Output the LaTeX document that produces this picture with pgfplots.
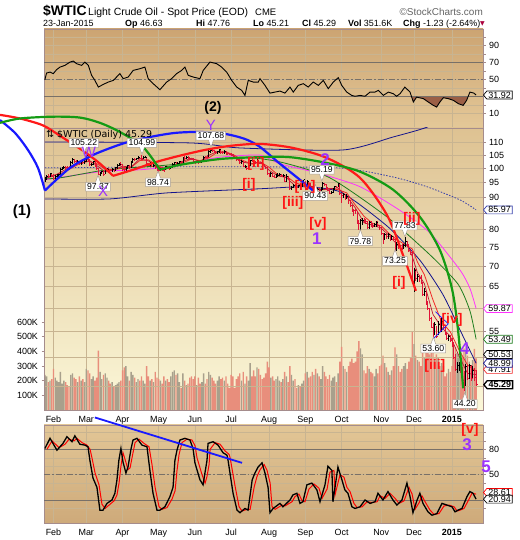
\documentclass[border=0pt]{standalone}
\usepackage{fontspec}
\setmainfont{Liberation Sans}
\newfontfamily\dejavu{DejaVu Sans}
\usepackage{pgfplots}
\usepackage{pgfplotstable}
\pgfplotsset{compat=1.18}
\usetikzlibrary{shapes.symbols,shapes.callouts}

\definecolor{frame}{RGB}{165,140,140}
\definecolor{gridc}{RGB}{200,180,145}
\definecolor{lvl}{RGB}{120,112,104}
\definecolor{barred}{RGB}{225,20,55}
\definecolor{volred}{RGB}{232,142,124}
\definecolor{volgrey}{RGB}{168,160,140}
\definecolor{navy}{RGB}{20,20,140}
\definecolor{dotnavy}{RGB}{50,60,170}
\definecolor{magen}{RGB}{255,50,255}
\definecolor{dgreen}{RGB}{30,125,30}
\definecolor{crim}{RGB}{185,20,50}
\definecolor{mared}{RGB}{240,40,40}
\definecolor{arcred}{RGB}{255,25,25}
\definecolor{arcgreen}{RGB}{20,155,20}
\definecolor{arcblue}{RGB}{25,25,255}
\definecolor{wpurple}{RGB}{155,50,255}
\definecolor{wred}{RGB}{255,20,20}
\definecolor{rsifill}{RGB}{155,95,70}
\definecolor{topA}{RGB}{204,164,114}
\definecolor{topB}{RGB}{228,200,152}
\definecolor{mainA}{RGB}{222,194,146}
\definecolor{mainM}{RGB}{240,224,180}
\definecolor{mainB}{RGB}{251,247,216}
\definecolor{botA}{RGB}{226,198,150}
\definecolor{botB}{RGB}{206,170,122}
\definecolor{labgrey}{RGB}{170,160,150}

\pgfdeclareplotmark{rtick}{\pgfpathmoveto{\pgfpointorigin}\pgfpathlineto{\pgfpoint{1.6bp}{0pt}}\pgfusepathqstroke}

\newcount\myrow
\pgfplotstableread{
i lo hi c v
0 95.2 96.9 95.9 240
1 95.8 97.8 97.4 230
2 96.9 97.9 97.4 190
3 97.1 98.6 98.2 200
4 97.2 98.3 97.5 210
5 96.2 98.1 96.4 280
6 96.1 97.6 97.2 220
7 96.6 97.9 97.4 200
8 96.9 98.2 97.8 190
9 97.5 100.1 99.9 260
10 99.4 100.6 100.1 180
11 99.7 100.9 100.4 200
12 99.9 101.0 100.4 190
13 99.6 101.1 100.4 170
14 99.5 100.9 100.3 160
15 100.2 102.8 102.4 240
16 101.8 103.8 103.3 250
17 102.1 103.6 102.8 220
18 101.7 103.1 102.2 210
19 101.9 103.3 102.8 190
20 101.3 103.0 101.8 230
21 101.4 102.9 102.6 200
22 101.9 103.0 102.4 210
23 101.8 103.1 102.6 190
24 102.5 105.22 104.9 280
25 102.9 105.0 103.3 270
26 101.0 103.5 101.5 250
27 101.0 102.2 101.6 210
28 101.2 103.0 102.6 230
29 100.8 102.8 101.1 200
30 99.8 101.6 100.0 220
31 97.7 100.4 98.0 405
32 97.5 98.8 98.2 260
33 97.9 99.2 98.9 210
34 97.37 99.2 98.1 240
35 98.0 100.0 99.7 250
36 99.1 100.3 99.9 220
37 99.0 100.2 99.5 200
38 99.0 100.0 99.5 180
39 98.8 100.1 99.6 190
40 98.7 100.0 99.2 160
41 99.0 100.6 100.3 170
42 100.0 101.6 101.3 180
43 100.9 102.0 101.7 190
44 100.9 102.3 101.6 200
45 99.3 101.9 99.7 270
46 98.9 100.1 99.6 290
47 99.3 100.6 100.3 300
48 99.9 101.3 101.1 230
49 100.1 101.4 100.4 200
50 100.4 102.8 102.6 260
51 102.2 103.9 103.6 240
52 103.0 104.1 103.4 220
53 103.1 104.0 103.7 190
54 103.5 104.6 104.1 210
55 103.5 104.4 103.8 200
56 103.4 104.99 103.8 230
57 103.6 104.7 104.3 200
58 103.9 104.8 104.4 180
59 101.5 104.5 101.8 300
60 101.0 102.2 101.4 230
61 100.9 102.4 101.9 200
62 100.5 102.1 100.8 210
63 100.5 101.6 101.3 190
64 99.9 101.5 100.3 260
65 99.3 100.5 99.7 220
66 98.74 100.2 99.4 210
67 99.2 100.2 99.8 200
68 99.1 100.0 99.5 180
69 98.9 99.9 99.5 230
70 99.5 101.0 100.8 200
71 99.9 101.1 100.3 210
72 99.6 100.6 100.0 190
73 99.8 100.9 100.6 230
74 100.4 102.0 101.7 260
75 101.4 102.4 102.2 270
76 101.2 102.3 101.5 240
77 101.3 102.3 102.0 250
78 101.9 102.8 102.6 190
79 101.9 102.9 102.3 150
80 102.2 104.3 104.1 250
81 103.4 104.6 103.7 200
82 103.6 104.6 104.4 170
83 103.8 104.6 104.1 180
84 103.2 104.3 103.6 220
85 103.1 104.1 103.6 230
86 102.5 103.8 102.7 210
87 101.9 102.8 102.5 230
88 102.0 103.0 102.6 170
89 101.9 103.1 102.6 220
90 102.1 103.1 102.5 180
91 102.2 103.0 102.7 190
92 102.5 104.6 104.4 250
93 103.9 104.8 104.4 180
94 103.9 105.0 104.4 210
95 104.3 107.0 106.5 260
96 105.8 107.68 106.9 240
97 106.2 107.5 106.9 220
98 105.8 107.2 106.4 200
99 105.4 106.8 106.0 180
100 105.7 106.8 106.4 200
101 106.0 107.5 107.3 230
102 105.7 107.2 106.2 210
103 105.4 106.8 106.0 220
104 105.7 106.9 106.5 200
105 105.3 106.6 105.8 230
106 105.2 106.1 105.7 180
107 105.0 106.0 105.4 150
108 104.7 105.9 105.3 240
109 104.1 105.6 104.5 230
110 103.8 104.9 104.1 150
111 103.0 104.3 103.5 210
112 102.9 104.0 103.4 230
113 101.8 103.6 102.3 250
114 101.9 103.1 102.9 200
115 100.6 103.0 100.8 260
116 100.1 101.2 100.9 180
117 99.5 101.0 100.0 230
118 99.8 101.5 101.2 200
119 100.9 103.4 103.2 320
120 102.5 103.8 103.1 230
121 101.8 103.4 102.4 270
122 101.9 102.9 102.4 230
123 102.1 103.6 103.1 290
124 101.7 103.0 102.1 280
125 101.6 102.6 102.1 240
126 101.0 102.2 101.7 210
127 100.5 101.9 101.0 220
128 99.9 101.1 100.3 250
129 97.9 100.5 98.2 330
130 97.0 98.5 97.9 290
131 97.1 98.7 98.3 220
132 97.0 98.4 97.3 230
133 96.5 97.7 96.9 200
134 96.6 97.9 97.3 210
135 97.0 98.4 97.7 230
136 97.3 98.6 98.1 200
137 97.0 98.1 97.4 190
138 97.0 98.0 97.6 210
139 95.2 97.8 95.6 260
140 95.3 97.9 97.4 230
141 96.0 97.5 96.4 190
142 92.5 96.5 92.9 300
143 92.6 94.0 93.5 240
144 93.3 94.7 94.0 200
145 93.2 94.4 93.7 210
146 92.9 93.9 93.4 150
147 93.0 94.1 93.9 170
148 93.4 94.3 93.9 160
149 93.6 94.9 94.6 180
150 94.4 96.1 96.0 200
151 92.5 95.6 92.9 250
152 92.7 95.8 95.5 260
153 94.0 95.6 94.5 220
154 93.1 94.9 93.3 230
155 91.9 93.6 92.3 260
156 91.7 93.2 92.8 240
157 90.43 92.9 91.7 280
158 91.4 93.1 92.8 250
159 91.8 93.0 92.3 230
160 92.0 93.4 92.9 210
161 92.4 95.19 94.9 300
162 93.8 95.0 94.4 260
163 92.6 94.5 93.1 230
164 92.0 93.5 92.4 210
165 91.1 92.8 91.5 240
166 91.0 92.3 91.6 200
167 91.4 93.0 92.8 220
168 92.5 93.9 93.6 230
169 93.0 94.0 93.5 190
170 93.4 95.0 94.6 250
171 91.0 94.7 91.2 330
172 88.2 91.5 90.7 430
173 89.9 91.5 91.0 300
174 89.0 91.0 89.7 280
175 89.5 91.0 90.3 260
176 88.0 90.0 88.9 300
177 86.9 89.1 87.3 330
178 85.4 87.6 85.8 350
179 84.0 86.3 85.8 320
180 84.7 86.4 85.7 330
181 81.6 85.6 81.8 400
182 80.0 82.8 81.8 470
183 79.78 83.0 82.7 420
184 81.4 83.6 82.8 380
185 81.9 83.4 82.7 270
186 81.7 83.2 82.5 250
187 80.3 82.6 80.5 300
188 80.3 82.6 82.1 280
189 80.6 82.4 81.0 260
190 80.4 81.8 81.0 250
191 80.6 82.0 81.4 230
192 80.7 82.5 82.2 280
193 80.8 82.4 81.1 250
194 80.0 81.4 80.5 300
195 78.5 80.7 78.8 310
196 75.8 78.9 77.2 370
197 77.0 79.0 78.7 320
198 77.3 79.1 77.9 290
199 77.4 79.0 78.7 260
200 76.8 78.8 77.4 240
201 77.0 78.3 77.9 270
202 76.8 78.0 77.2 300
203 73.25 77.3 74.2 427
204 74.0 76.3 75.8 380
205 74.6 76.5 75.6 300
206 74.2 75.7 74.6 260
207 74.3 75.8 74.6 280
208 74.4 75.9 75.6 300
209 75.0 77.83 76.5 320
210 75.1 76.8 75.8 280
211 73.8 75.9 74.1 330
212 72.9 74.3 73.7 360
213 65.7 74.0 66.2 538
214 63.7 69.6 69.0 450
215 66.2 69.1 66.9 370
216 66.1 68.0 67.4 340
217 65.9 67.6 66.8 330
218 65.7 67.8 65.8 300
219 62.8 66.0 63.1 400
220 62.6 64.5 63.8 360
221 60.7 63.9 60.9 420
222 59.5 61.5 60.0 400
223 57.3 60.0 57.8 380
224 55.7 58.1 55.9 390
225 53.60 56.8 55.9 410
226 54.4 56.9 56.5 350
227 53.8 56.2 54.1 380
228 54.3 57.2 56.5 360
229 54.9 57.8 55.3 300
230 55.0 57.8 57.1 320
231 55.6 57.6 55.8 300
232 54.3 56.0 54.7 230
233 53.4 55.0 53.6 250
234 53.1 54.4 54.1 280
235 52.9 54.3 53.3 260
236 52.0 53.7 52.7 300
237 49.9 52.9 50.0 360
238 47.6 50.6 47.9 430
239 47.3 49.2 48.7 390
240 47.7 49.3 48.8 370
241 47.2 49.6 48.4 340
242 45.9 48.4 46.1 360
243 44.20 47.7 45.9 420
244 45.0 48.9 48.5 400
245 46.1 48.6 46.3 370
246 46.3 48.8 48.7 330
247 45.9 48.7 46.4 300
248 46.4 48.5 47.8 340
249 45.9 48.2 46.5 417
250 45.21 47.76 45.29 351.6
}\bardata
\myrow=0
\pgfplotstablecreatecol[
  create col/assign/.code={%
    \getthisrow{c}\curc
    \ifnum\myrow=0
      \def\entry{1}%
    \else
      \getprevrow{c}\prevc
      \pgfmathparse{\curc>\prevc ? 1 : 0}%
      \let\entry\pgfmathresult
    \fi
    \global\advance\myrow by 1
    \pgfkeyslet{/pgfplots/table/create col/next content}\entry}
]{up}\bardata

\pgfplotsset{
  panel/.style={scale only axis, width=439bp, xmin=-0.5, xmax=254, anchor=north west,
    axis line style={draw=frame, line width=0.9bp},
    xtick={5,24,45,66,87,108,130,151,172,195,214,236},
    xtick style={draw=none},
    xmajorgrids, major grid style={draw=gridc, line width=0.5bp},
    tick label style={font=\fontsize{9}{10}\selectfont},
    ytick pos=right, yticklabel pos=right,
    ytick style={draw=frame, line width=0.5bp},
    major tick length=2.5bp, tick align=outside,
    /pgf/number format/assume math mode=true,
    clip mode=individual,
  },
  months/.style={xticklabels={Feb,Mar,Apr,May,Jun,Jul,Aug,Sep,Oct,Nov,Dec,\textbf{2015}}},
}
\tikzset{
  tag/.style={signal, signal to=west, signal pointer angle=100, draw=#1, fill=white,
    line width=0.7bp, inner xsep=1.5bp, inner ysep=0.8bp,
    font=\fontsize{9}{9}\selectfont, anchor=west, text=black},
  plab/.style={rectangle callout, fill=white, draw=labgrey, line width=0.5bp,
    inner xsep=1.5bp, inner ysep=1.3bp, font=\fontsize{8.7}{8.7}\selectfont,
    callout pointer width=5bp},
  pdown/.style={plab, callout relative pointer={(0bp,-7bp)}},
  pup/.style={plab, callout relative pointer={(0bp,7bp)}},
  wr/.style={text=wred, font=\fontsize{14}{14}\selectfont\bfseries, inner sep=0},
  wp/.style={text=wpurple, font=\fontsize{17}{17}\selectfont\bfseries, inner sep=0},
  wl/.style={text=wpurple, font=\fontsize{15}{15}\selectfont, inner sep=0},
}

\begin{document}
\begin{tikzpicture}[x=1bp,y=1bp]
\path[use as bounding box] (0,0) rectangle (520,540);

% ---------- header ----------
\node[anchor=base west, inner sep=0] at (43,524) {\fontsize{14}{14}\selectfont\bfseries \$WTIC};
\node[anchor=base west, inner sep=0] at (88,524) {\fontsize{10.5}{11}\selectfont Light Crude Oil - Spot Price (EOD)};
\node[anchor=base west, inner sep=0] at (255,524) {\fontsize{9.5}{10}\selectfont CME};
\node[anchor=base east, inner sep=0, text={rgb,255:red,100;green,100;blue,100}] at (483,524) {\fontsize{10}{11}\selectfont \textcopyright StockCharts.com};
\begin{scope}[every node/.style={anchor=base west, inner sep=0, font=\fontsize{9}{10}\selectfont}]
\node at (43,513) {23-Jan-2015};
\node at (125,513) {\textbf{Op} 46.63};
\node at (196,513) {\textbf{Hi} 47.76};
\node at (253,513) {\textbf{Lo} 45.21};
\node at (302,513) {\textbf{Cl} 45.29};
\node at (348,513) {\textbf{Vol} 351.6K};
\node at (403,513) {\textbf{Chg} -1.23 (-2.64\%)};
\end{scope}
\node[anchor=base west, inner sep=0, text={rgb,255:red,170;green,0;blue,60}] at (480,514) {\dejavu\fontsize{6}{6}\selectfont ▼};

% ---------- top panel (RSI) ----------
\begin{axis}[panel, at={(44bp,511bp)}, height=99bp, ymin=-6.8, ymax=109.6,
  axis background/.style={top color=topA, bottom color=topB},
  ytick={10,20,30,40,50,60,70,80,90,100}, yticklabels={10,,,,50,,70,,90,},
  ymajorgrids, xticklabels={}]
\addplot[draw=none, fill=rsifill] coordinates {(212.6,30)(213.6,23.7)(215.5,29.5)(219.4,27.7)(222.3,23.7)(225.2,19.8)(227.1,17.8)(229,23.7)(231,28.8)(233.9,27.7)(236.8,25.7)(239.7,21.8)(242.5,19.8)(244.5,25.7)(245.3,30)};
\addplot[lvl, line width=0.8bp] coordinates {(-0.5,70)(254,70)};
\addplot[lvl, line width=0.8bp] coordinates {(-0.5,30)(254,30)};
\addplot[lvl, line width=0.8bp, dash pattern=on 6bp off 2bp on 1.5bp off 2bp] coordinates {(-0.5,50)(254,50)};
\addplot[black, line width=0.9bp] coordinates {(0,50)(1,57.8)(3,58.9)(4.9,57.1)(6.8,61.8)(8.8,64.8)(11.6,66.8)(14.6,70.7)(16.5,71.9)(18.4,68.8)(21.3,66.8)(23.2,70.7)(25.2,66.8)(27.1,55.1)(29,49.2)(31,41.3)(33.9,44.5)(36.8,47.2)(39.7,49.2)(43.5,57.1)(45.4,51.2)(48.3,53.1)(51.2,60.9)(55.1,62.9)(58,64.8)(59.9,51.2)(62.8,45.3)(66.7,38.2)(70.6,47.2)(73.5,51.2)(76.4,57.1)(79.3,60.9)(81.2,64.8)(83.1,55.1)(86,53.1)(89.9,51.2)(91.8,60.9)(95.7,70.7)(99.6,68.8)(102.5,64.8)(105.4,58.9)(108.3,49.2)(111.2,41.3)(114.1,37.4)(116,31.5)(117.9,49.2)(120.8,47.2)(123.7,47.2)(124.7,51.2)(127.6,43.3)(130.5,34.2)(133.4,35.4)(136.3,36.6)(139.2,34.2)(142.1,41.3)(144,35.4)(146.9,43.3)(149.8,45.3)(152.7,41.3)(155.6,47.2)(158.5,43.3)(161.4,49.2)(164.3,39.4)(167.2,47.2)(170.1,52.4)(172.1,43.3)(175,35.4)(177.9,31.5)(179.8,30.5)(182.7,31.5)(185.6,30.5)(188.5,35.4)(191.4,35.4)(193.3,37.4)(196.2,31.5)(199.1,35.4)(202,33.5)(203.9,30.5)(205.9,33.5)(208.7,41.3)(211.7,35.4)(213.6,23.7)(215.5,29.5)(219.4,27.7)(222.3,23.7)(225.2,19.8)(227.1,17.8)(229,23.7)(231,28.8)(233.9,27.7)(236.8,25.7)(239.7,21.8)(242.5,19.8)(244.5,25.7)(246.4,35.4)(248.7,34.2)(250,31.92)};
\node[tag=black] at (axis cs:254,31.92) {31.92};
\end{axis}

% ---------- volume (background of main panel) ----------
\begin{axis}[panel, at={(44bp,412bp)}, height=282bp, ymin=0, ymax=1923,
  axis background/.style={top color=mainA, middle color=mainM, bottom color=mainB},
  months, ytick pos=left, yticklabel pos=left,
  ytick={100,200,300,400,500,600}, yticklabels={100K,200K,300K,400K,500K,600K}]
\addplot[ybar, bar width=0.8, bar shift=0pt, fill=volred, draw=none,
  restrict expr to domain={\thisrow{up}}{-0.5:0.5}] table[x=i, y=v]{\bardata};
\addplot[ybar, bar width=0.8, bar shift=0pt, fill=volgrey, draw=none,
  restrict expr to domain={\thisrow{up}}{0.5:1.5}] table[x=i, y=v]{\bardata};
\end{axis}

% ---------- price ----------
\begin{axis}[panel, at={(44bp,412bp)}, height=282bp, ymode=log, ymin=41.28, ymax=116.09,
  ytick={45,50,55,60,65,70,75,80,85,90,95,100,105,110},
  yticklabels={,,55,,65,70,75,80,,90,95,100,105,110},
  ymajorgrids, xmajorgrids=false, xticklabels={}]
% thin lines
\addplot[navy, line width=0.8bp, smooth, tension=0.4] coordinates {(0,110.3)(84,109.9)(113,107.9)(172.8,107.1)(201.8,112.3)(220.3,116.1)(235,121)};
\addplot[navy, line width=0.8bp, smooth, tension=0.4] coordinates {(0,89.5)(37.7,89.5)(70.8,91.5)(124.7,92.9)(147.8,93.6)(159.5,93.2)(171,91.9)(182.7,87.6)(200,80.3)(217.4,71.5)(230.8,63.0)(240.6,55.4)(250,48.99)};
\addplot[dotnavy, line width=0.8bp, dash pattern=on 1.5bp off 1.5bp, smooth, tension=0.4] coordinates {(0,100.3)(90,100.7)(169.3,100.3)(201.8,97.0)(221.5,93.6)(240.6,89.2)(250,85.97)};
\addplot[magen, line width=0.8bp, smooth, tension=0.4] coordinates {(0,96.0)(31.9,98.9)(55.1,99.6)(66.7,100.3)(84.1,102.1)(101.5,104.3)(124.7,105.1)(136.3,101.8)(159.5,98.2)(182.7,93.6)(205.9,85.8)(223.3,79.0)(240.6,69.0)(246.4,64.5)(250,59.87)};
\addplot[dgreen, line width=0.8bp, smooth, tension=0.4] coordinates {(0,96.3)(10,96.8)(36,99.6)(65,101.0)(84.1,102.1)(113,104.3)(136.3,102.5)(165.2,96.7)(198.3,83.8)(223.3,72.9)(239.5,65.5)(246.4,59.4)(250,53.49)};
\addplot[mared, line width=0.8bp] coordinates {(0,96.8)(10,98.4)(20,101.8)(25,102.7)(30,101.9)(35,99.8)(40,99.6)(45,100.4)(50,100.5)(55,103.0)(60,103.3)(65,101.3)(70,99.9)(75,100.9)(80,102.2)(85,103.6)(90,103.0)(95,104.0)(100,106.2)(105,106.4)(110,105.0)(115,103.0)(120,101.7)(125,102.5)(130,100.5)(135,97.8)(140,97.3)(145,95.0)(150,94.0)(155,93.7)(160,92.5)(165,93.0)(170,92.6)(175,91.5)(180,87.5)(185,84.0)(190,81.8)(195,81.1)(200,78.6)(205,76.8)(210,75.4)(213,74.5)(216,71.0)(220,67.8)(225,61.8)(230,57.0)(235,55.0)(240,51.5)(245,48.7)(250,47.6)};
\addplot[crim, line width=0.7bp] coordinates {(0,96.5)(5,97.3)(10,99.0)(15,100.8)(20,102.6)(25,103.4)(30,101.2)(35,98.8)(40,99.6)(45,100.9)(50,100.6)(55,103.7)(60,102.9)(65,100.7)(70,99.8)(75,101.0)(80,102.8)(85,103.9)(90,102.6)(95,105.0)(100,106.5)(105,106.1)(110,104.5)(115,102.4)(120,101.8)(125,102.5)(130,99.4)(135,97.4)(140,96.8)(145,93.9)(150,94.6)(155,93.6)(160,92.6)(165,92.9)(170,93.2)(175,90.3)(180,86.6)(185,82.0)(190,81.3)(195,80.4)(200,78.0)(205,75.3)(210,75.6)(213,72.5)(216,68.3)(220,65.6)(225,58.6)(230,55.9)(235,54.1)(240,50.4)(245,47.2)(250,47.0)};
% price bars
\addplot[only marks, mark=rtick, mark options={barred, line width=0.7bp},
  restrict expr to domain={\thisrow{up}}{-0.5:0.5},
  error bars/.cd, y dir=both, y explicit, error mark=none,
  error bar style={barred, line width=0.7bp}]
  table[x=i, y=c, y error plus expr={\thisrow{hi}-\thisrow{c}}, y error minus expr={\thisrow{c}-\thisrow{lo}}]{\bardata};
\addplot[only marks, mark=rtick, mark options={black, line width=0.7bp},
  restrict expr to domain={\thisrow{up}}{0.5:1.5},
  error bars/.cd, y dir=both, y explicit, error mark=none,
  error bar style={black, line width=0.7bp}]
  table[x=i, y=c, y error plus expr={\thisrow{hi}-\thisrow{c}}, y error minus expr={\thisrow{c}-\thisrow{lo}}]{\bardata};
\end{axis}

% ---------- bottom panel ----------
\begin{axis}[panel, at={(44bp,115bp)}, height=98bp, ymin=-7.2, ymax=108.8,
  axis background/.style={top color=botA, bottom color=botB},
  ytick={10,20,30,40,50,60,70,80,90,100}, yticklabels={,,,,50,,,80,,},
  ymajorgrids, months, clip=false]
\addplot[lvl, line width=0.8bp] coordinates {(-0.5,80)(254,80)};
\addplot[lvl, line width=0.8bp] coordinates {(-0.5,20)(254,20)};
\addplot[lvl, line width=0.8bp, dash pattern=on 6bp off 2bp on 1.5bp off 2bp] coordinates {(-0.5,50)(254,50)};
\addplot[red, line width=1bp] coordinates {(1.2,80)(4.2,90)(8.2,82)(11.7,86)(14,92)(16.9,90)(18.6,93)(21.5,88)(24.4,85)(26.2,80)(27.3,70)(29.1,52)(31.4,38)(33.1,15)(34.9,10)(37.2,14)(40.1,19)(41.8,26)(43,40)(44.1,60)(45.3,76)(46.5,68)(48.2,56)(49.4,58)(51.1,76)(52.3,88)(54.6,92)(57.5,87)(60.4,83)(62.1,62)(63.9,35)(66.2,12)(67.9,9)(70.8,11)(73.7,21)(75.5,31)(76.6,55)(77.8,74)(79.5,88)(82.4,92)(85.3,91)(87.1,84)(88.2,70)(91.1,50)(92.9,40)(94,48)(95.2,62)(95.8,80)(98.7,88)(101.6,86)(104.5,78)(106.8,74)(107.4,70)(110.3,36)(112.6,12)(114.3,7)(117.2,9)(119,9)(121.4,36)(123,48)(124.8,56)(127.1,62)(128.8,55)(130.6,40)(131.7,12)(133.5,9)(137.5,14)(139.2,13)(143.3,18)(145,24)(147.3,27)(149.1,19)(150.8,18)(153.1,33)(156,39)(158.9,34)(160.7,22)(163.6,33)(165.3,53)(167.6,55)(168.2,26)(171.1,50)(173.4,47)(175.1,35)(176.9,30)(179.2,16)(181,11)(183.9,12)(186.8,18)(189.7,17)(192.6,18)(194.3,25)(197.2,22)(200.1,28)(203,22)(205.3,16)(208.2,19)(211.1,35)(212.9,27)(214.6,9)(217,17)(218.6,25)(220.4,18)(223.3,8)(225.6,3)(228.5,4)(231.4,13)(234.3,14)(237.2,12)(239,7)(240.7,8)(243,10)(245.9,21)(247.6,28)(250,27)};
\addplot[black, line width=1.3bp] coordinates {(0,81)(3,93)(7,79)(10.5,87)(12.8,95)(15.7,89)(17.4,96)(20.3,86)(23.2,85)(25,83)(26.1,67)(27.9,46)(30.2,35)(31.9,8)(33.7,8)(36,16)(38.9,20)(40.6,28)(41.8,44)(42.9,67)(44.1,81)(45.3,65)(47,52)(48.2,59)(49.9,80)(51.1,91)(53.4,93)(56.3,85)(59.2,83)(60.9,55)(62.7,28)(65,8)(66.7,8)(69.6,12)(72.5,24)(74.3,35)(75.4,67)(76.6,79)(78.3,91)(81.2,93)(84.1,91)(85.9,81)(87,64)(89.9,44)(91.7,38)(92.8,52)(94,67)(94.6,87)(97.5,89)(100.4,85)(103.3,76)(105.6,73)(106.2,67)(109.1,28)(111.4,8)(113.1,5)(116,10)(117.8,8)(120.2,44)(121.8,52)(123.6,59)(125.9,64)(127.6,52)(129.4,35)(130.5,5)(132.3,10)(136.3,16)(138,12)(142.1,20)(143.8,26)(146.1,28)(147.9,16)(149.6,18)(151.9,38)(154.8,40)(157.7,32)(159.5,18)(162.4,38)(164.1,60)(166.4,55)(167,18)(169.9,59)(172.2,44)(173.9,32)(175.7,28)(178,12)(179.8,10)(182.7,12)(185.6,20)(188.5,16)(191.4,18)(193.1,28)(196,20)(198.9,30)(201.8,20)(204.1,14)(207,20)(209.9,40)(211.7,24)(213.4,5)(215.8,20)(217.4,28)(219.2,16)(222.1,6)(224.4,2)(227.3,4)(230.2,16)(233.1,14)(236,12)(237.8,6)(239.5,8)(241.8,10)(244.7,24)(246.4,30)(248.2,28)(250,21)};
\addplot[arcblue, line width=1.8bp] coordinates {(29,117.7)(114.3,64)};
\node[tag=red] at (axis cs:254,28.9) {28.61};
\node[tag=black] at (axis cs:254,21) {20.94};
\end{axis}

% ---------- overlay: arcs, labels, tags ----------
\begin{axis}[panel, at={(44bp,412bp)}, height=282bp, ymode=log, ymin=41.28, ymax=116.09,
  hide axis, clip=false]
\addplot[arcblue, line width=2.2bp, smooth] coordinates {(-26.0,119.5)(-17.3,114.0)(-9.8,107.1)(-4.0,100.3)(0.06,92.3)};
\addplot[arcblue, line width=2.2bp, smooth] coordinates {(0.06,92.3)(5.9,95.6)(14.6,100.3)(23.2,103.6)(31.9,106.3)(46.4,109.9)(60.9,112.3)(75.4,114.0)(89.9,114.4)(104.4,113.6)(116,111.5)(124.7,108.3)(136.3,101.8)(147.9,96.0)(158.3,90.9)};
\addplot[arcred, line width=2.2bp, smooth] coordinates {(-26,121.8)(-14.4,120.2)(-1.1,117.2)(8.8,112.8)(22.1,106.8)(31.9,101.9)(39.5,97.4)};
\addplot[arcred, line width=2.2bp, smooth] coordinates {(39.5,97.4)(51.1,99.6)(66.7,102.9)(89.9,106.7)(107.3,108.7)(124.7,109.5)(143.8,107.9)(163.5,104.0)(182.7,96.7)(198.3,84.4)(207.6,72.9)(215.1,63.9)};
\addplot[arcgreen, line width=2.2bp, smooth] coordinates {(-26,118.3)(-14.4,120.2)(4.7,121.0)(20.3,120.6)(31.9,118.3)(43.5,114.4)(56.9,108.3)(66.7,99.6)};
\addplot[arcgreen, line width=2.2bp, smooth] coordinates {(66.7,99.6)(78.3,101.4)(101.5,103.6)(124.7,104.3)(142.1,104.3)(163.5,102.1)(182.7,98.9)(201.8,92.6)(217.4,83.8)(229,74.2)(236,64.4)(239.5,55.4)(242.5,44.7)};
\addplot[arcblue, line width=0.7bp] coordinates {(225.2,53.6)(233.9,56.6)(226.4,59.2)};
% price labels
\node[pdown] at (axis cs:22.6,109.9) {105.22};
\node[pup] at (axis cs:30.8,93.6) {97.37};
\node[pdown] at (axis cs:56.3,109.9) {104.99};
\node[pup] at (axis cs:65.6,95.1) {98.74};
\node[pdown] at (axis cs:96.3,112.8) {107.68};
\node[pup] at (axis cs:156.8,90.5) {90.43};
\node[pdown] at (axis cs:160.6,99.6) {95.19};
\node[pup] at (axis cs:182.9,76.7) {79.78};
\node[pdown] at (axis cs:208.7,81.2) {77.83};
\node[pup] at (axis cs:203,71.3) {73.25};
\node[pup] at (axis cs:225.2,51.7) {53.60};
\node[pup] at (axis cs:243.5,42.2) {44.20};
% wave labels
\node[wl] at (axis cs:25.6,106.3) {W};
\node[wl] at (axis cs:33.7,91.9) {X};
\node[wl] at (axis cs:96.3,117.3) {Y};
\node[wp] at (axis cs:162.4,103.2) {2};
\node[wp] at (axis cs:157.7,77.5) {1};
\node[wp] at (axis cs:243.5,51.6) {4};
\node[wr] at (axis cs:118.3,94.3) {[i]};
\node[wr] at (axis cs:122.4,101.7) {[ii]};
\node[wr] at (axis cs:143.8,88.1) {[iii]};
\node[wr] at (axis cs:150.8,93.6) {[iv]};
\node[wr] at (axis cs:158.3,81.8) {[v]};
\node[wr] at (axis cs:205.3,65.7) {[i]};
\node[wr] at (axis cs:212.8,83.1) {[ii]};
\node[wr] at (axis cs:226.1,48.5) {[iii]};
\node[wr] at (axis cs:236,57.5) {[iv]};
% tags
\node[tag=dotnavy] at (axis cs:254,85.97) {85.97};
\node[tag=magen] at (axis cs:254,59.87) {59.87};
\node[tag=dgreen] at (axis cs:254,53.49) {53.49};
\node[tag=black] at (axis cs:254,50.6) {50.53};
\node[tag=mared] at (axis cs:254,47.9) {47.91};
\node[tag=navy] at (axis cs:254,48.99) {48.99};
\node[tag=black, line width=1.3bp, font=\fontsize{9}{9}\selectfont\bfseries] at (axis cs:254,45.29) {45.29};
\end{axis}

% legend text in main panel
\node[anchor=west, inner sep=0] at (46,405) {\dejavu\fontsize{9.5}{10}\selectfont ⇅ \$WTIC (Daily) 45.29};

% free labels
\node[font=\fontsize{15}{15}\selectfont\bfseries, inner sep=0] at (22,328) {(1)};
\node[font=\fontsize{14}{14}\selectfont\bfseries, inner sep=0] at (213,432) {(2)};
\node[wr] at (470,110) {[v]};
\node[wp] at (467,95) {3};
\node[wp] at (486,73) {5};
\end{tikzpicture}
\end{document}
